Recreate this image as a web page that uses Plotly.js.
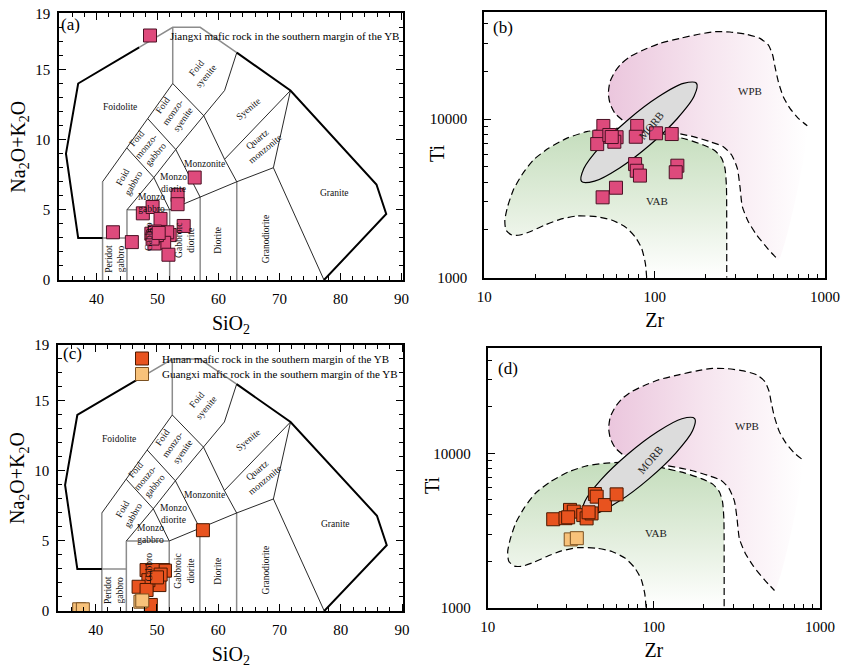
<!DOCTYPE html>
<html><head><meta charset="utf-8">
<script src="https://cdn.plot.ly/plotly-3.0.1.min.js"></script>
<style>html,body{margin:0;padding:0;background:#fff}#chart{width:843px;height:670px}</style>
</head><body><div id="chart"></div><script>
const SERIF = 'Liberation Serif, Times New Roman, serif';

// ---------- sample data ----------
const jiangxiSiO2 = [42.7, 45.8, 47.6, 49.2, 50.5, 56.1, 53.3, 53.3, 54.3, 52.0, 51.6, 51.1, 51.8, 49.5, 49.0, 49.3, 49.6, 49.9, 49.2, 50.2];
const jiangxiAlk  = [3.4, 2.7, 4.75, 5.2, 4.35, 7.3, 6.05, 5.4, 3.85, 3.2, 3.4, 2.65, 1.8, 2.6, 3.3, 3.1, 3.45, 3.2, 2.95, 3.35];
const jiangxiZr = [50, 47.3, 46, 54.2, 59.8, 58, 56, 79, 77.5, 102, 126, 76.8, 78.5, 82, 136, 133, 59.3, 49.5];
const jiangxiTi = [9040, 7730, 6950, 7930, 7680, 7190, 7700, 9040, 7730, 8130, 8040, 5200, 4720, 4400, 5080, 4620, 3690, 3210];

const hunanSiO2 = [57.5, 48.3, 49.8, 51.0, 49.4, 49.8, 50.1, 50.4, 48.6, 47.0, 48.3, 49.0, 51.3, 49.3, 50.6, 50.0];
const hunanAlk  = [5.77, 2.92, 2.85, 2.92, 2.56, 2.33, 2.09, 1.85, 2.2, 1.73, 1.5, 0.43, 2.88, 2.92, 2.6, 2.4];
const guangxiSiO2 = [37.3, 37.9, 47.3, 47.6];
const guangxiAlk  = [0.12, 0.12, 0.66, 0.75];
const hunanZr = [24.8, 29.4, 31.3, 33.0, 37.6, 39.4, 42.2, 44.2, 45.3, 50.8, 59.7, 30.5, 40.5];
const hunanTi = [3740, 3800, 4300, 4190, 3980, 3790, 4080, 5450, 5240, 4620, 5420, 3850, 4150];
const guangxiZr = [31.6, 34.4];
const guangxiTi = [2770, 2820];

// ---------- TAS (plutonic) field boundaries ----------
const tasOuterX = [41, 37, 35, 37, 47, null, 63, 71.8, 85.9, 87.5, 77.3];
const tasOuterY = [3, 3, 9, 14, 16.58, null, 16.2, 13.5, 6.8, 4.7, 0];
const tasGreyX = [47, 52.5, 57, 63, null, 52.5, 52.5, null, 41, 41, null, 45, 45, null, 52, 52, null, 57, 57, null, 63, 63, null, 41, 45, null, 45, 52];
const tasGreyY = [16.58, 18, 18, 16.2, null, 14, 18, null, 0, 7, null, 0, 5, null, 0, 5, null, 0, 5.9, null, 0, 7, null, 3, 3, null, 5, 5];
const tasInnerX = [41, 45, 48.4, 52.5, 57.6, 61, 63, null, 45, 49.4, 53, 57.6, 61, 63, null, 45, 49.4, 52, null, 48.4, 53, 57, null, 52, 57, 63, 69, 71.8, null, 61, 71.8, null, 69, 77.3];
const tasInnerY = [7, 9.4, 11.5, 14, 11.7, 8.6, 7, null, 5, 7.3, 9.3, 11.7, 13.5, 16.2, null, 9.4, 7.3, 5, null, 11.5, 9.3, 5.9, null, 5, 5.9, 7, 8, 13.5, null, 8.6, 13.5, null, 8, 0];

const tasLabels = ['Foidolite', 'Foid<br>syenite', 'Foid<br>monzo-<br>syenite', 'Syenite', 'Foid<br>monzo-<br>gabbro', 'Monzonite',
  'Quartz<br>monzonite', 'Foid<br>gabbro', 'Monzo<br>diorite', 'Monzo<br>gabbro', 'Granite', 'Granodiorite', 'Diorite',
  'Gabbroic<br>diorite', 'Gabbro', 'Peridot<br>gabbro'];
const tasLabelSiO2 = [43.8, 57.2, 52.6, 64.9, 48.2, 57.7, 67.0, 45.2, 52.7, 49.0, 79.1, 67.8, 59.9, 54.5, 48.7, 43.0];
const tasLabelAlk  = [12.3, 14.8, 11.9, 12.2, 9.5, 8.3, 9.7, 7.1, 6.9, 5.5, 6.2, 2.9, 2.85, 2.85, 3.1, 1.5];
const tasLabelAngle = [0, -50, -55, -40, -50, 0, -40, -60, 0, 0, 0, -90, -90, -90, -90, -90];

// ---------- Ti-Zr fields ----------
const vabZr = [89.8, 88.2, 83.9, 76.7, 67.0, 55.9, 45.7, 34.8, 27.8, 22.7, 19.0, 16.2, 14.5, 13.4, 13.2, 13.7, 14.8, 16.6, 19.4, 23.8, 30.4, 39.9, 50.0, 62.6, 78.4, 98.2, 120.3, 154.2, 193.2, 226.1, 247.5, 258.8, 264, 265, 265];
const vabTi = [1000, 1232, 1531, 1814, 2097, 2310, 2424, 2448, 2332, 2148, 1970, 1858, 1858, 1998, 2310, 2803, 3569, 4437, 5516, 6536, 7553, 8322, 8608, 8735, 8608, 8322, 7929, 7445, 6859, 6317, 5651, 4888, 3746, 1904, 1000];
const wpbTopZr = [64.6, 58.5, 54.7, 53.5, 54.7, 58.5, 64.0, 71.7, 85.8, 107.5, 140.9, 184.6, 226.1, 276.9, 346.9, 415.4, 465.0, 493.1, 508.8, 532.3, 569.3, 623.0, 697.3, 787.5];
const wpbTopTi = [9855, 10860, 12550, 14510, 17190, 19880, 22430, 24710, 27220, 29990, 32230, 34330, 35510, 35340, 34160, 32230, 29270, 25310, 21370, 17190, 13820, 11670, 10100, 9080];
const wpbLowZr = [122, 168.7, 211.3, 253.1, 283.2, 305.8, 317.0, 327.2, 354.8, 397.2, 465.0, 532.3];
const wpbLowTi = [8300, 7741, 7196, 6694, 5934, 4888, 3746, 2803, 2255, 1858, 1509, 1293];
const morbZr = [176.1, 170.7, 135.5, 93.7, 62.3, 44.4, 37.2, 38.4, 48.3, 69.9, 105.2, 147.5, 176.1];
const morbTi = [16800, 13940, 10040, 6860, 4920, 4060, 4040, 4870, 6770, 9900, 13800, 16750, 16800];

const fieldLabels = ['WPB', 'VAB', 'MORB'];
const fieldLabelZr = [363, 103.7, 94.8];
const fieldLabelTi = [15080, 3043, 9050];
const fieldLabelAngle = [0, 0, -50];

// ---------- styles ----------
const PINK = '#DE4A7C', PINK_LINE = '#4a1024';
const HUNAN = '#E8531F', HUNAN_LINE = '#4a1800';
const GUANGXI = '#F8C27A', GUANGXI_LINE = '#7a5020';
const DASH = '7px,4px';

function tasTraces(xa, ya) {
  return [
    {x: tasGreyX, y: tasGreyY, xaxis: xa, yaxis: ya, mode: 'lines', line: {color: '#8c8c8c', width: 1.5}, showlegend: false, hoverinfo: 'skip', connectgaps: false},
    {x: tasInnerX, y: tasInnerY, xaxis: xa, yaxis: ya, mode: 'lines', line: {color: '#111', width: 0.9}, showlegend: false, hoverinfo: 'skip', connectgaps: false},
    {x: tasOuterX, y: tasOuterY, xaxis: xa, yaxis: ya, mode: 'lines', line: {color: '#000', width: 2}, showlegend: false, hoverinfo: 'skip', connectgaps: false}
  ];
}
function tiZrTraces(xa, ya) {
  const wpbFillZr = wpbTopZr.concat(wpbLowZr.slice().reverse());
  const wpbFillTi = wpbTopTi.concat(wpbLowTi.slice().reverse());
  return [
    {x: vabZr, y: vabTi, xaxis: xa, yaxis: ya, mode: 'lines', fill: 'toself', line: {width: 0, shape: 'spline', smoothing: 0.6},
     fillgradient: {type: 'vertical', colorscale: [[0, 'rgb(255,255,255)'], [0.45, 'rgb(228,239,223)'], [1, 'rgb(196,221,188)']]},
     showlegend: false, hoverinfo: 'skip'},
    {x: wpbFillZr, y: wpbFillTi, xaxis: xa, yaxis: ya, mode: 'lines', fill: 'toself', line: {width: 0, shape: 'spline', smoothing: 0.6},
     fillgradient: {type: 'horizontal', colorscale: [[0, 'rgb(235,198,221)'], [0.5, 'rgb(246,229,239)'], [1, 'rgb(255,255,255)']]},
     showlegend: false, hoverinfo: 'skip'},
    {x: vabZr, y: vabTi, xaxis: xa, yaxis: ya, mode: 'lines', line: {color: '#000', width: 1.2, dash: DASH, shape: 'spline', smoothing: 0.6}, showlegend: false, hoverinfo: 'skip'},
    {x: wpbTopZr, y: wpbTopTi, xaxis: xa, yaxis: ya, mode: 'lines', line: {color: '#000', width: 1.2, dash: DASH, shape: 'spline', smoothing: 0.6}, showlegend: false, hoverinfo: 'skip'},
    {x: wpbLowZr, y: wpbLowTi, xaxis: xa, yaxis: ya, mode: 'lines', line: {color: '#000', width: 1.2, dash: DASH, shape: 'spline', smoothing: 0.6}, showlegend: false, hoverinfo: 'skip'},
    {x: morbZr, y: morbTi, xaxis: xa, yaxis: ya, mode: 'lines', fill: 'toself', fillcolor: '#dcdcdc', line: {color: '#000', width: 1.2, shape: 'spline', smoothing: 0.9}, showlegend: false, hoverinfo: 'skip'}
  ];
}
function pts(x, y, xa, ya, color, lcolor, name, legend) {
  return {x: x, y: y, xaxis: xa, yaxis: ya, mode: 'markers', name: name, legend: legend,
    showlegend: !!name, marker: {symbol: 'square', size: 13, color: color, line: {color: lcolor, width: 1}}};
}

const traces = [].concat(
  tasTraces('x', 'y'),
  [pts(jiangxiSiO2, jiangxiAlk, 'x', 'y', PINK, PINK_LINE, 'Jiangxi mafic rock in the southern margin of the YB', 'legend')],
  tiZrTraces('x2', 'y2'),
  [pts(jiangxiZr, jiangxiTi, 'x2', 'y2', PINK, PINK_LINE, null)],
  tasTraces('x3', 'y3'),
  [pts(hunanSiO2, hunanAlk, 'x3', 'y3', HUNAN, HUNAN_LINE, 'Hunan mafic rock in the southern margin of the YB', 'legend2'),
   pts(guangxiSiO2, guangxiAlk, 'x3', 'y3', GUANGXI, GUANGXI_LINE, 'Guangxi mafic rock in the southern margin of the YB', 'legend3')],
  tiZrTraces('x4', 'y4'),
  [pts(hunanZr, hunanTi, 'x4', 'y4', HUNAN, HUNAN_LINE, null),
   pts(guangxiZr, guangxiTi, 'x4', 'y4', GUANGXI, GUANGXI_LINE, null)]
);

function linX(domain, anchor) {
  return {domain: domain, anchor: anchor, range: [33.9, 90.2], tickmode: 'array', tickvals: [40, 50, 60, 70, 80, 90],
    ticks: 'inside', ticklen: 7, tickwidth: 1, tickcolor: '#000', mirror: 'allticks', showline: true, linewidth: 2, linecolor: '#000',
    showgrid: false, zeroline: false, tickfont: {size: 15, family: SERIF}, ticklabelstandoff: 4,
    minor: {tickmode: 'linear', tick0: 0, dtick: 2, ticks: 'inside', ticklen: 4, tickcolor: '#000', tickwidth: 1, showgrid: false},
    title: {text: 'SiO<sub>2</sub>', font: {size: 20, family: SERIF}, standoff: 10}};
}
function linY(domain, anchor) {
  return {domain: domain, anchor: anchor, range: [0, 19], tickmode: 'array', tickvals: [0, 5, 10, 15, 19],
    ticks: 'inside', ticklen: 7, tickwidth: 1, tickcolor: '#000', mirror: 'allticks', showline: true, linewidth: 2, linecolor: '#000',
    showgrid: false, zeroline: false, tickfont: {size: 15, family: SERIF}, ticklabelstandoff: 4,
    minor: {tickmode: 'linear', tick0: 0, dtick: 1, ticks: 'inside', ticklen: 4, tickcolor: '#000', tickwidth: 1, showgrid: false},
    title: {text: 'Na<sub>2</sub>O+K<sub>2</sub>O', font: {size: 20, family: SERIF}, standoff: 4}};
}
function logX(domain, anchor) {
  return {domain: domain, anchor: anchor, type: 'log', range: [1, 3], tickmode: 'array', tickvals: [10, 100, 1000], ticktext: ['10', '100', '1000'],
    ticks: 'inside', ticklen: 7, tickwidth: 1, tickcolor: '#000', mirror: true, showline: true, linewidth: 2, linecolor: '#000',
    showgrid: false, zeroline: false, tickfont: {size: 15, family: SERIF}, ticklabelstandoff: 4,
    minor: {tickmode: 'array', tickvals: [20, 30, 40, 50, 60, 70, 80, 90, 200, 300, 400, 500, 600, 700, 800, 900], ticks: 'inside', ticklen: 4, tickcolor: '#000', tickwidth: 1, showgrid: false},
    title: {text: 'Zr', font: {size: 20, family: SERIF}, standoff: 9}};
}
function logY(domain, anchor, top) {
  return {domain: domain, anchor: anchor, type: 'log', range: [3, top], tickmode: 'array', tickvals: [1000, 10000], ticktext: ['1000', '10000'],
    ticks: 'inside', ticklen: 7, tickwidth: 1, tickcolor: '#000', mirror: true, showline: true, linewidth: 2, linecolor: '#000',
    showgrid: false, zeroline: false, tickfont: {size: 15, family: SERIF}, ticklabelstandoff: 12,
    minor: {tickmode: 'array', tickvals: [2000, 3000, 4000, 5000, 6000, 7000, 8000, 9000, 20000, 30000, 40000], ticks: 'inside', ticklen: 4, tickcolor: '#000', tickwidth: 1, showgrid: false},
    title: {text: ''}};
}

const annotations = [];
[['x', 'y'], ['x3', 'y3']].forEach(function (ax) {
  tasLabels.forEach(function (t, i) {
    annotations.push({xref: ax[0], yref: ax[1], x: tasLabelSiO2[i], y: tasLabelAlk[i], text: t, showarrow: false,
      textangle: tasLabelAngle[i], font: {size: 9.5, family: SERIF, color: '#111'}});
  });
});
[['x2', 'y2'], ['x4', 'y4']].forEach(function (ax) {
  fieldLabels.forEach(function (t, i) {
    annotations.push({xref: ax[0], yref: ax[1], x: Math.log10(fieldLabelZr[i]), y: Math.log10(fieldLabelTi[i]), text: t, showarrow: false,
      textangle: fieldLabelAngle[i], font: {size: 11, family: SERIF, color: '#222'}});
  });
});
// Ti axis titles (placed closer to the axis than Plotly's automatic title)
[[437, 153], [432, 485]].forEach(function (p) {
  annotations.push({xref: 'paper', yref: 'paper', x: p[0] / 843, y: 1 - p[1] / 670, text: 'Ti', showarrow: false, textangle: -90,
    xanchor: 'center', yanchor: 'middle', font: {size: 20, family: SERIF, color: '#000'}});
});
const panelTags = ['(a)', '(b)', '(c)', '(d)'];
const tagX = [70, 503, 72, 508], tagY = [25, 28, 353, 368];
panelTags.forEach(function (t, i) {
  annotations.push({xref: 'paper', yref: 'paper', x: tagX[i] / 843, y: 1 - tagY[i] / 670, text: t, showarrow: false,
    xanchor: 'center', yanchor: 'middle', font: {size: 17, family: SERIF, color: '#000'}});
});

function legendAt(px, py) {
  return {x: px / 843, y: 1 - py / 670, xanchor: 'left', yanchor: 'top', bgcolor: 'rgba(0,0,0,0)', font: {size: 11, family: SERIF}, itemwidth: 30, tracegroupgap: 0};
}

const layout = {
  width: 843, height: 670, margin: {l: 0, r: 0, t: 0, b: 0}, paper_bgcolor: '#fff', plot_bgcolor: 'rgba(0,0,0,0)',
  font: {family: SERIF, color: '#000'},
  xaxis: linX([0.0703, 0.4777], 'y'), yaxis: linY([0.5821, 0.9801], 'x'),
  xaxis2: logX([0.5745, 0.9786], 'y2'), yaxis2: logY([0.5855, 0.9825], 'x2', 4.676),
  xaxis3: linX([0.0692, 0.4784], 'y3'), yaxis3: linY([0.0881, 0.4851], 'x3'),
  xaxis4: logX([0.5785, 0.9727], 'y4'), yaxis4: logY([0.0930, 0.4801], 'x4', 4.68),
  legend: legendAt(130, 21),
  legend2: legendAt(122, 344),
  legend3: legendAt(122, 359.5),
  annotations: annotations,
  showlegend: true
};

Plotly.newPlot('chart', traces, layout, {staticPlot: true, displayModeBar: false});
</script></body></html>
